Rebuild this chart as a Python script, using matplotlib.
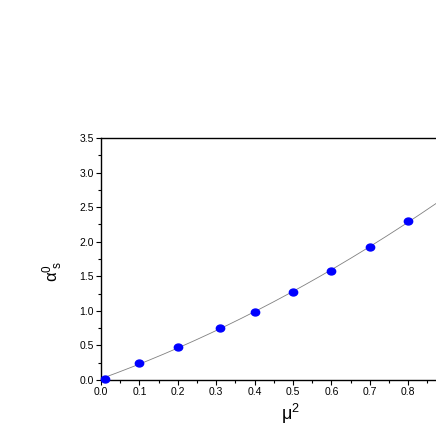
import numpy as np
import matplotlib
matplotlib.use('Agg')
import matplotlib.pyplot as plt
from matplotlib.ticker import MultipleLocator
from matplotlib.markers import MarkerStyle
from matplotlib.transforms import Affine2D

plt.rcParams['font.family'] = ['Liberation Sans', 'DejaVu Sans']
plt.rcParams['mathtext.default'] = 'regular'

# data
mu2 = [0.01, 0.1, 0.2, 0.31, 0.4, 0.5, 0.6, 0.7, 0.8]
alpha_s0 = [0.02, 0.24, 0.48, 0.75, 0.99, 1.27, 1.58, 1.92, 2.30]

# quadratic fit to the points
coef = np.polyfit(mu2, alpha_s0, 2)
xfit = np.linspace(0.0, 0.9, 200)
yfit = np.polyval(coef, xfit)

fig = plt.figure(figsize=(4.36, 4.36), dpi=100)
ax = fig.add_axes([101/436, 56/436, 345.6/436, 242/436])

ax.plot(xfit, yfit, color='#808080', lw=0.6, zorder=2)
mk = MarkerStyle('o', transform=Affine2D().scale(1.2, 1.0))
ax.plot(mu2, alpha_s0, ls='none', marker=mk, color='#0000ff', ms=5,
        mec='#0000ff', zorder=3, clip_on=False)

ax.set_xlim(0.0, 0.9)
ax.set_ylim(0.0, 3.5)
ax.xaxis.set_minor_locator(MultipleLocator(0.05))
ax.yaxis.set_major_locator(MultipleLocator(0.5))
ax.yaxis.set_minor_locator(MultipleLocator(0.25))
ticks = np.arange(0, 0.85, 0.1)
ax.set_xticks(ticks)
ax.set_xticklabels(['%.1f' % v for v in ticks])

ax.tick_params(which='both', direction='out', labelsize=7.5, width=0.8, pad=1.5)
ax.tick_params(which='major', length=3.5)
ax.tick_params(which='minor', length=2)
for s in ax.spines.values():
    s.set_linewidth(1.0)
ax.spines['right'].set_visible(False)

ax.set_ylabel(r'$\alpha^{0}_{\ s}$', fontsize=12, rotation=90)
ax.yaxis.set_label_coords(-0.105, 0.45)
ax.set_xlabel(r'$\mu^{2}$', fontsize=13)
ax.xaxis.set_label_coords(0.547, -0.09)

fig.savefig('out.png', dpi=100)
